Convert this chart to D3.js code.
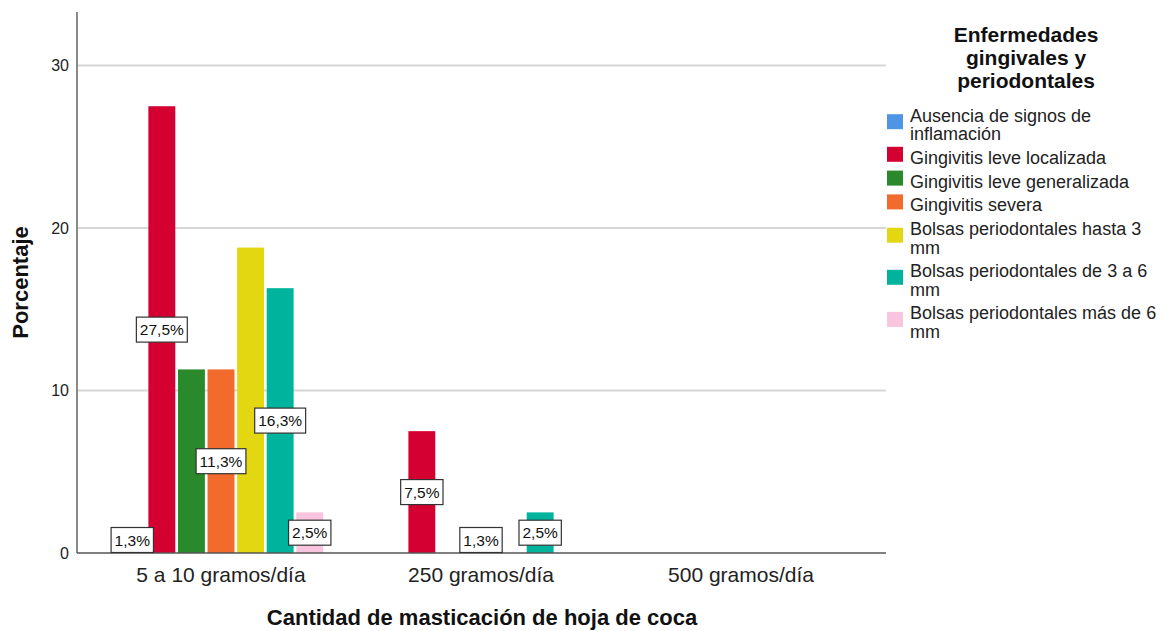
<!DOCTYPE html>
<html>
<head>
<meta charset="utf-8">
<script src="https://cdn.jsdelivr.net/npm/d3@7"></script>
<style>
  body { margin: 0; background: #fff; }
  text { font-family: "Liberation Sans", Arial, sans-serif; }
</style>
</head>
<body>
<div id="chart"></div>
<script>
// Podatki
const categories = ["5 a 10 gramos/día", "250 gramos/día", "500 gramos/día"];
const seriesNames = [
  "Ausencia de signos de inflamación",
  "Gingivitis leve localizada",
  "Gingivitis leve generalizada",
  "Gingivitis severa",
  "Bolsas periodontales hasta 3 mm",
  "Bolsas periodontales de 3 a 6 mm",
  "Bolsas periodontales más de 6 mm"
];
const seriesColors = ["#4f95e5", "#d50032", "#2a8a2b", "#f26a2c", "#e3d711", "#00b39c", "#f9c4de"];
// vrednosti po kategorijah (en niz na serijo)
const ausencia      = [1.3, 0, 0];
const leveLocal     = [27.5, 7.5, 0];
const leveGeneral   = [11.3, 0, 0];
const severa        = [11.3, 1.3, 0];
const hasta3        = [18.8, 0, 0];
const de3a6         = [16.3, 2.5, 0];
const masDe6        = [2.5, 0, 0];
const yTicks = [0, 10, 20, 30];
const legendTitle = ["Enfermedades", "gingivales y", "periodontales"];

const values = [ausencia, leveLocal, leveGeneral, severa, hasta3, de3a6, masDe6];

const W = 1164, H = 631;
const svg = d3.select("#chart").append("svg")
  .attr("width", W).attr("height", H);

const plot = { left: 77, right: 886, top: 12, bottom: 553 };

const y = d3.scaleLinear().domain([0, 33.3]).range([plot.bottom, plot.top]);
const x0 = d3.scaleBand().domain(categories).range([91, 871]).padding(0);
const x1 = d3.scaleBand().domain(seriesNames).range([0, x0.bandwidth()])
  .paddingInner(0.09).paddingOuter(0.94);

// mreža
svg.append("g")
  .selectAll("line")
  .data(yTicks.filter(d => d > 0))
  .enter().append("line")
  .attr("x1", plot.left).attr("x2", plot.right)
  .attr("y1", d => y(d)).attr("y2", d => y(d))
  .attr("stroke", "#d6d6d6").attr("stroke-width", 2);

// y os
const yAxis = svg.append("g")
  .attr("transform", `translate(${plot.left},0)`)
  .call(d3.axisLeft(y).tickValues(yTicks).tickSize(0).tickPadding(8));
yAxis.select(".domain").remove();
yAxis.selectAll("text")
  .attr("font-size", 16).attr("fill", "#222")
  .style("font-family", "'Liberation Sans', Arial, sans-serif");
svg.append("line")
  .attr("x1", plot.left).attr("x2", plot.left)
  .attr("y1", plot.top).attr("y2", plot.bottom)
  .attr("stroke", "#8a8a8a").attr("stroke-width", 2);

// stolpci
const groups = svg.append("g")
  .selectAll("g")
  .data(categories)
  .enter().append("g")
  .attr("transform", d => `translate(${x0(d)},0)`);

groups.selectAll("rect")
  .data((c, ci) => seriesNames.map((s, si) => ({ s, si, v: values[si][ci] })))
  .enter().append("rect")
  .filter(d => d.v > 0)
  .attr("x", d => x1(d.s))
  .attr("width", x1.bandwidth())
  .attr("y", d => y(d.v))
  .attr("height", d => y(0) - y(d.v))
  .attr("fill", d => seriesColors[d.si]);

// x os
svg.append("line")
  .attr("x1", plot.left).attr("x2", plot.right)
  .attr("y1", plot.bottom).attr("y2", plot.bottom)
  .attr("stroke", "#555").attr("stroke-width", 1.5);

svg.append("g")
  .selectAll("text")
  .data(categories)
  .enter().append("text")
  .attr("x", d => x0(d) + x0.bandwidth() / 2)
  .attr("y", 582)
  .attr("text-anchor", "middle")
  .attr("font-size", 21)
  .attr("fill", "#222")
  .text(d => d);

// oznake vrednosti (prekrivajoče se skrij, od zadnje serije naprej)
const fmt = v => d3.format(".1f")(v).replace(".", ",") + "%";
const labelLayer = svg.append("g");
const placed = [];
categories.forEach((c, ci) => {
  for (let si = seriesNames.length - 1; si >= 0; si--) {
    const v = values[si][ci];
    if (!(v > 0)) continue;
    const cx = x0(c) + x1(seriesNames[si]) + x1.bandwidth() / 2;
    const cy = Math.min((y(v) + y(0)) / 2, y(0) - 13);
    const t = labelLayer.append("text")
      .attr("x", cx).attr("y", cy)
      .attr("text-anchor", "middle")
      .attr("dominant-baseline", "central")
      .attr("font-size", 15.5)
      .attr("fill", "#111")
      .text(fmt(v));
    const w = t.node().getComputedTextLength() + 7;
    const box = { x: cx - w / 2, y: cy - 12.5, w: w, h: 25 };
    const hit = placed.some(b => box.x < b.x + b.w && b.x < box.x + box.w &&
                                 box.y < b.y + b.h && b.y < box.y + box.h);
    if (hit) { t.remove(); continue; }
    placed.push(box);
    labelLayer.insert("rect", () => t.node())
      .attr("x", box.x).attr("y", box.y)
      .attr("width", box.w).attr("height", box.h)
      .attr("fill", "#fff").attr("stroke", "#333").attr("stroke-width", 1.2);
  }
});

// naslovi osi
svg.append("text")
  .attr("x", 482).attr("y", 625)
  .attr("text-anchor", "middle")
  .attr("font-size", 22).attr("font-weight", "bold").attr("fill", "#111")
  .text("Cantidad de masticación de hoja de coca");

svg.append("text")
  .attr("transform", `translate(28,${(plot.top + plot.bottom) / 2}) rotate(-90)`)
  .attr("text-anchor", "middle")
  .attr("font-size", 22).attr("font-weight", "bold").attr("fill", "#111")
  .text("Porcentaje");

// legenda
const legend = svg.append("g");
legendTitle.forEach((line, i) => {
  legend.append("text")
    .attr("x", 1026).attr("y", 42 + i * 23)
    .attr("text-anchor", "middle")
    .attr("font-size", 21).attr("font-weight", "bold").attr("fill", "#111")
    .text(line);
});

function wrap(str, maxW, size) {
  const words = str.split(" ");
  const tmp = svg.append("text").attr("font-size", size);
  const lines = [];
  let cur = "";
  words.forEach(w => {
    const test = cur ? cur + " " + w : w;
    tmp.text(test);
    if (tmp.node().getComputedTextLength() > maxW && cur) {
      lines.push(cur);
      cur = w;
    } else cur = test;
  });
  lines.push(cur);
  tmp.remove();
  return lines;
}

let baseY = 121.7;
seriesNames.forEach((name, i) => {
  const lines = wrap(name, 250, 18);
  const item = legend.append("g");
  lines.forEach((ln, li) => {
    item.append("text")
      .attr("x", 910).attr("y", baseY + li * 18.3)
      .attr("font-size", 18).attr("fill", "#222")
      .text(ln);
  });
  const midY = lines.length > 1 ? baseY : baseY - 9.5;
  item.append("rect")
    .attr("x", 887).attr("y", midY - 7.5)
    .attr("width", 16).attr("height", 15)
    .attr("fill", seriesColors[i]);
  baseY += lines.length * 18.3 + 5.5;
});
</script>
</body>
</html>
